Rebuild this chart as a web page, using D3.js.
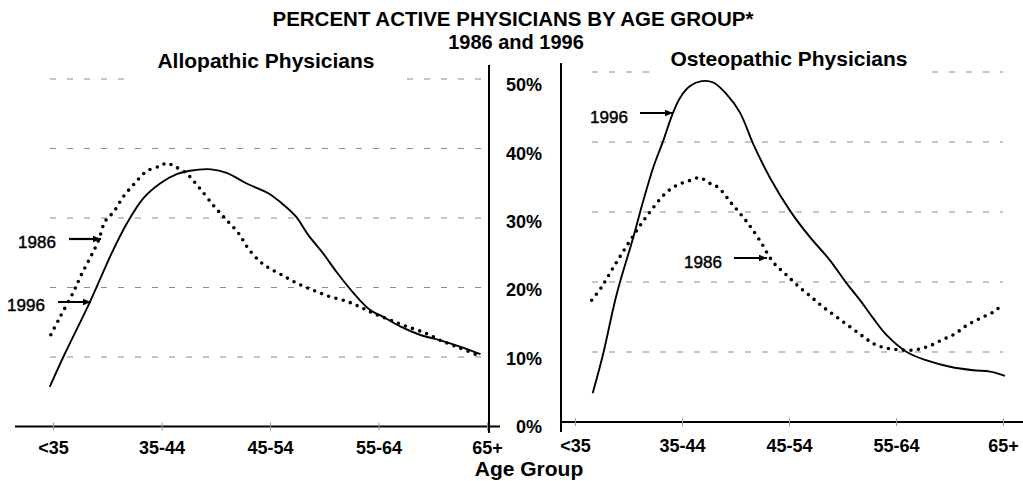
<!DOCTYPE html>
<html>
<head>
<meta charset="utf-8">
<script src="https://cdn.jsdelivr.net/npm/d3@7/dist/d3.min.js"></script>
<style>
  html, body { margin: 0; padding: 0; background: #fff; }
  svg { display: block; font-family: "Liberation Sans", Arial, sans-serif; }
</style>
</head>
<body>
<svg id="chart" width="1023" height="481"></svg>
<script>
// ---------------- DATA ----------------
const categories = ["<35", "35-44", "45-54", "55-64", "65+"];
const yTicks = [0, 10, 20, 30, 40, 50];
const mainTitle = "PERCENT ACTIVE PHYSICIANS BY AGE GROUP*";
const subTitle = "1986 and 1996";
const xTitle = "Age Group";
const panelTitles = ["Allopathic Physicians", "Osteopathic Physicians"];

// Allopathic, positions along age axis (0 = "<35", 4 = "65+") and percent values
const alloPos1996 = [-0.03, 0.11, 0.34, 0.54, 0.68, 0.83, 0.99, 1.14, 1.26, 1.46, 1.60, 1.78, 1.98, 2.11, 2.24, 2.35, 2.49, 2.61, 2.77, 2.92, 3.04, 3.20, 3.38, 3.57, 3.75, 3.94];
const alloPct1996 = [5.7, 10.5, 17.9, 24.9, 29.2, 32.8, 35.0, 36.3, 36.8, 37.0, 36.5, 35.0, 33.6, 32.1, 30.2, 27.6, 24.9, 22.3, 19.2, 16.8, 15.8, 14.4, 13.2, 12.4, 11.5, 10.4];
const alloPos1986 = [-0.02, 0.06, 0.19, 0.26, 0.34, 0.42, 0.48, 0.56, 0.65, 0.76, 0.86, 0.99, 1.05, 1.11, 1.23, 1.34, 1.49, 1.60, 1.71, 1.80, 1.91, 1.98, 2.11, 2.25, 2.40, 2.55, 2.71, 2.83, 2.95, 3.11, 3.26, 3.44, 3.57, 3.75, 3.94];
const alloPct1986 = [13.2, 15.6, 19.4, 21.8, 24.2, 26.8, 29.5, 30.9, 33.1, 35.1, 36.7, 37.5, 37.9, 37.5, 36.4, 34.5, 31.6, 29.7, 27.8, 25.6, 23.7, 22.9, 21.8, 20.6, 19.6, 18.7, 18.0, 17.2, 16.3, 15.3, 14.4, 13.4, 12.4, 11.3, 10.1];

// Osteopathic
const osteoPos1996 = [0.165, 0.264, 0.39, 0.545, 0.638, 0.732, 0.825, 0.904, 0.981, 1.075, 1.184, 1.293, 1.418, 1.542, 1.666, 1.822, 2.009, 2.196, 2.383, 2.539, 2.664, 2.788, 2.913, 3.10, 3.287, 3.505, 3.722, 3.879, 4.019];
const osteoPct1996 = [4.1, 9.8, 18.3, 26.4, 31.6, 36.4, 40.2, 43.7, 46.3, 48.0, 48.7, 48.5, 46.8, 44.2, 39.7, 34.9, 30.2, 26.4, 23.1, 19.8, 17.4, 14.8, 12.4, 10.0, 8.8, 7.9, 7.4, 7.2, 6.6];
const osteoPos1986 = [0.156, 0.25, 0.343, 0.436, 0.561, 0.685, 0.841, 0.95, 1.075, 1.168, 1.246, 1.339, 1.464, 1.526, 1.62, 1.729, 1.853, 1.963, 2.087, 2.212, 2.321, 2.446, 2.57, 2.694, 2.788, 2.897, 3.037, 3.178, 3.302, 3.427, 3.551, 3.661, 3.785, 3.909, 3.988];
const osteoPct1986 = [17.4, 19.3, 21.7, 24.0, 27.0, 29.7, 32.6, 33.8, 34.5, 34.9, 34.2, 33.5, 31.2, 30.1, 28.3, 25.9, 22.8, 21.2, 19.4, 17.8, 16.4, 15.0, 13.6, 12.2, 11.2, 10.6, 10.3, 10.3, 10.8, 11.7, 12.6, 13.8, 14.8, 15.7, 16.7];

const annotationLabels = ["1986", "1996"];

// ---------------- DRAW ----------------
const svg = d3.select("#chart");
const FONT = '"Liberation Sans", Arial, sans-serif';

svg.append("defs").append("marker")
  .attr("id", "arrow").attr("viewBox", "0 0 10 10")
  .attr("refX", 10).attr("refY", 5)
  .attr("markerWidth", 9).attr("markerHeight", 8)
  .attr("markerUnits", "userSpaceOnUse")
  .attr("orient", "auto")
  .append("path").attr("d", "M0,1 L10,5 L0,9 Z").attr("fill", "#000");

const zip = (xs, ys) => xs.map((x, i) => [x, ys[i]]);

const panels = [
  {
    title: panelTitles[0], titleX: 266, titleY: 68, pad: 28,
    x: d3.scaleLinear().domain([0, 4]).range([53, 487]),
    y: d3.scaleLinear().domain([0, 50]).range([426.5, 79]),
    gridX: [50, 483], axisX: [15, 500], vAxisX: 489, vAxisY: [65, 433],
    s1996: zip(alloPos1996, alloPct1996), s1986: zip(alloPos1986, alloPct1986),
    tickPad: 15,
    ann: [
      { label: annotationLabels[0], tx: 37, ty: 248, ax: [69, 101], ay: 239 },
      { label: annotationLabels[1], tx: 26, ty: 311, ax: [58, 91], ay: 302 }
    ]
  },
  {
    title: panelTitles[1], titleX: 789, titleY: 66, pad: 20,
    x: d3.scaleLinear().domain([0, 4]).range([575, 1003]),
    y: d3.scaleLinear().domain([0, 50]).range([422, 72]),
    gridX: [592, 1003], axisX: [561, 1023], vAxisX: 561, vAxisY: [63, 432],
    s1996: zip(osteoPos1996, osteoPct1996), s1986: zip(osteoPos1986, osteoPct1986),
    tickPad: 17,
    ann: [
      { label: annotationLabels[1], tx: 609, ty: 123, ax: [640, 673], ay: 113 },
      { label: annotationLabels[0], tx: 703, ty: 268, ax: [734, 767], ay: 258 }
    ]
  }
];

panels.forEach(p => {
  const g = svg.append("g");
  // gridlines
  g.selectAll(".grid").data(yTicks.filter(v => v > 0)).join("line")
    .attr("x1", p.gridX[0]).attr("x2", p.gridX[1])
    .attr("y1", d => p.y(d)).attr("y2", d => p.y(d))
    .attr("stroke", "#8c8c8c").attr("stroke-width", 1.2)
    .attr("stroke-dasharray", "6 11");

  // panel title with white backing box
  const t = g.append("text")
    .attr("x", p.titleX).attr("y", p.titleY)
    .attr("text-anchor", "middle")
    .attr("font-family", FONT).attr("font-weight", "bold").attr("font-size", 21)
    .text(p.title);
  const bb = t.node().getBBox();
  g.insert("rect", "text")
    .attr("x", bb.x - p.pad).attr("y", bb.y - 4)
    .attr("width", bb.width + 2 * p.pad).attr("height", bb.height + 14)
    .attr("fill", "#fff");

  // axes lines
  g.append("line").attr("x1", p.axisX[0]).attr("x2", p.axisX[1])
    .attr("y1", p.y(0)).attr("y2", p.y(0))
    .attr("stroke", "#000").attr("stroke-width", 2.2);
  g.append("line").attr("x1", p.vAxisX).attr("x2", p.vAxisX)
    .attr("y1", p.vAxisY[0]).attr("y2", p.vAxisY[1])
    .attr("stroke", "#000").attr("stroke-width", 2);

  // x axis labels via d3 axis
  const ax = g.append("g").attr("transform", `translate(0,${p.y(0)})`)
    .call(d3.axisBottom(p.x).tickValues(d3.range(categories.length))
      .tickFormat(i => categories[i]).tickSizeInner(4).tickSizeOuter(0).tickPadding(p.tickPad - 4));
  ax.select(".domain").remove();
  ax.selectAll(".tick line").attr("stroke", "#999").attr("y1", -4).attr("stroke-width", 1);
  ax.selectAll(".tick text").attr("font-family", FONT).attr("font-weight", "bold")
    .attr("font-size", 18).attr("fill", "#000");

  // lines
  const line = d3.line().x(d => p.x(d[0])).y(d => p.y(d[1])).curve(d3.curveCatmullRom.alpha(0.5));
  g.append("path").datum(p.s1986).attr("d", line)
    .attr("fill", "none").attr("stroke", "#000").attr("stroke-width", 3.6)
    .attr("stroke-linecap", "round").attr("stroke-dasharray", "0 7.5");
  g.append("path").datum(p.s1996).attr("d", line)
    .attr("fill", "none").attr("stroke", "#000").attr("stroke-width", 1.9)
    .attr("stroke-linejoin", "round");

  // annotations
  p.ann.forEach(a => {
    g.append("text").attr("x", a.tx).attr("y", a.ty).attr("text-anchor", "middle")
      .attr("font-family", FONT).attr("font-size", 17).attr("fill", "#000")
      .attr("stroke", "#000").attr("stroke-width", 0.45).text(a.label);
    g.append("line").attr("x1", a.ax[0]).attr("x2", a.ax[1]).attr("y1", a.ay).attr("y2", a.ay)
      .attr("stroke", "#000").attr("stroke-width", 2.2).attr("marker-end", "url(#arrow)");
  });
});

// shared y-axis labels between panels
const yLab = d3.scaleLinear().domain([0, 50]).range([427, 85]);
const yAx = svg.append("g").attr("transform", "translate(542,0)")
  .call(d3.axisLeft(yLab).tickValues(yTicks).tickFormat(d => d + "%").tickSize(0).tickPadding(0));
yAx.select(".domain").remove();
yAx.selectAll(".tick text").attr("font-family", FONT).attr("font-weight", "bold")
  .attr("font-size", 18).attr("fill", "#000");

// titles
svg.append("text").attr("x", 513).attr("y", 26).attr("text-anchor", "middle")
  .attr("font-family", FONT).attr("font-weight", "bold").attr("font-size", 20.5).text(mainTitle);
svg.append("text").attr("x", 516).attr("y", 49).attr("text-anchor", "middle")
  .attr("font-family", FONT).attr("font-weight", "bold").attr("font-size", 20).text(subTitle);
svg.append("text").attr("x", 529).attr("y", 476).attr("text-anchor", "middle")
  .attr("font-family", FONT).attr("font-weight", "bold").attr("font-size", 21).text(xTitle);
</script>
</body>
</html>
